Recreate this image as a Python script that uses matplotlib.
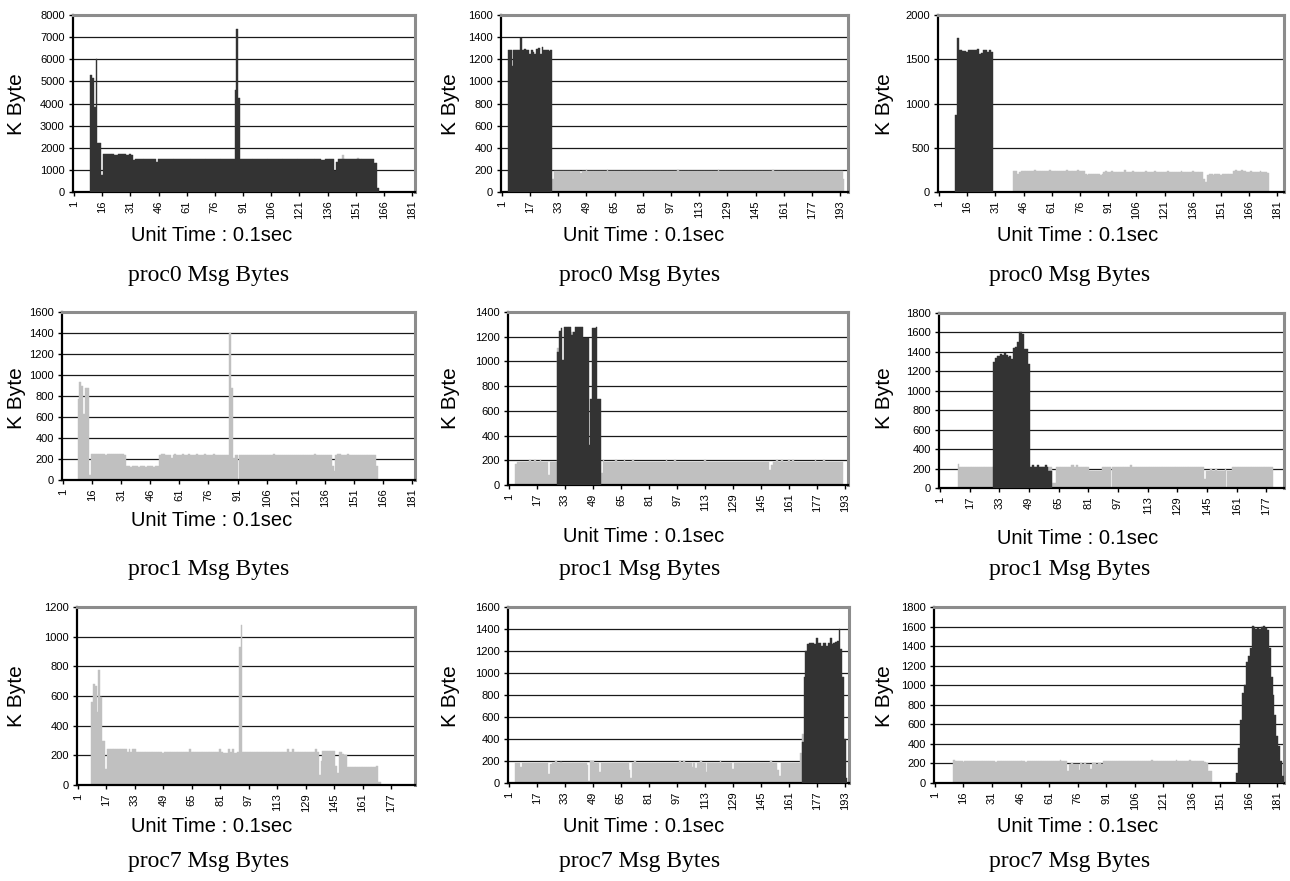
# -*- coding: utf-8 -*-
import matplotlib
matplotlib.use("Agg")
import matplotlib.pyplot as plt
import numpy as np

plt.rcParams['font.family'] = ['Liberation Sans', 'DejaVu Sans']

DARK = '#333333'
LIGHT = '#c0c0c0'

# ---- proc0, run 1 (K Byte per 0.1 sec)
a_n = 182
a_dark_start = 10
a_dark = [5300, 5150, 3850, 6000, 2200, 2200, 750,
          1700, 1700, 1720, 1700, 1700, 1710, 1650, 1650, 1700, 1700, 1710, 1700, 1690, 1680, 1700, 1680,
          1450, 1500, 1500, 1510, 1500, 1490, 1500, 1500, 1510, 1500,
          1480, 1500, 1350, 1500, 1500, 1510, 1500, 1500, 1490, 1500,
          1500, 1510, 1500, 1500, 1500, 1490, 1500, 1510, 1500, 1500,
          1500, 1500, 1490, 1500, 1510, 1500, 1500, 1500, 1490, 1500,
          1500, 1510, 1500, 1500, 1480, 1500, 1500, 1510, 1500, 1500,
          1500, 1490, 1500, 1500,
          4600, 7350, 4250,
          1500, 1490, 1500, 1510, 1500, 1500, 1480, 1500, 1500, 1510,
          1500, 1500, 1490, 1500, 1500, 1510, 1500, 1500, 1500, 1490,
          1500, 1510, 1500, 1500, 1480, 1500, 1500, 1500, 1510, 1500,
          1500, 1490, 1500, 1500, 1510, 1500, 1500, 1480, 1500, 1500,
          1500, 1510, 1500, 1450, 1450, 1500, 1500, 1490, 1500, 1480,
          950, 1350,
          1500, 1500, 1510, 1500, 1490, 1500, 1500, 1510, 1480, 1500,
          1500, 1500, 1490, 1500, 1510, 1500, 1500, 1490, 1500,
          1300, 1300, 200]
a_light_start = 144
a_light = [1650, 0, 0, 0, 0, 0, 0, 0, 1530]

# ---- proc0, run 2
b_n = 197
b_dark_start = 5
b_dark = [1280, 1280, 1140, 1280, 1280, 1280, 1280, 1390, 1280, 1290,
          1280, 1280, 1250, 1280, 1270, 1250, 1290, 1300, 1250, 1310,
          1280, 1280, 1280, 1275, 1280]
b_light_start = 30
b_light = [120,
           190, 190, 190, 190, 190, 190, 190, 190, 190, 190,
           190, 190, 190, 190, 190, 170, 190, 190, 200, 190,
           190, 190, 190, 190, 190, 190, 190, 190, 190, 190,
           200, 190, 190, 190, 190, 190, 190, 190, 190, 190,
           190, 190, 190, 190, 190, 190, 190, 190, 190, 190,
           190, 190, 190, 190, 190, 190, 190, 190, 190, 190,
           190, 190, 190, 190, 190, 190, 190, 190, 190, 190,
           200, 190, 190, 190, 190, 190, 190, 190, 190, 190,
           190, 190, 190, 190, 190, 190, 190, 190, 190, 190,
           190, 190, 190, 200, 190, 190, 190, 190, 190, 190,
           190, 190, 190, 190, 190, 190, 190, 190, 190, 190,
           190, 190, 190, 190, 190, 190, 190, 190, 190, 190,
           190, 190, 190, 190, 200, 190, 190, 190, 190, 190,
           190, 190, 190, 190, 190, 190, 190, 190, 190, 190,
           190, 190, 190, 190, 190, 190, 190, 190, 190, 190,
           190, 190, 190, 190, 190, 190, 190, 190, 190, 190,
           190, 190, 190, 190,
           120]

# ---- proc0, run 3
c_n = 184
c_dark_start = 10
c_dark = [870, 1740, 1600, 1600, 1590, 1590, 1580, 1600, 1600, 1600,
          1600, 1600, 1620, 1560, 1570, 1600, 1600, 1580, 1600, 1580]
c_light_start = 41
c_light = [240, 240,
           200, 230, 235, 240, 235,
           240, 240, 235, 240, 245, 240, 240, 240, 235, 240,
           240, 240, 245, 240, 240, 240, 240, 235, 240, 240,
           240, 245, 240, 240, 240, 240, 240, 245, 240, 240, 240,
           200, 195, 200, 200, 200, 205, 200, 200, 195, 200,
           230, 235, 230, 230, 240, 230, 230, 230, 225, 230,
           230, 245, 230, 230, 230, 235, 230, 230, 230, 230,
           230, 230, 240, 230, 230, 230, 230, 235, 230, 230,
           230, 230, 230, 230, 240, 230, 230, 230, 230, 230,
           230, 235, 230, 230, 230, 230, 230, 240, 230, 230,
           230, 230, 230,
           150, 110,
           190, 200, 200, 195, 200, 200, 200, 195, 200, 200, 200, 200, 200, 205,
           240, 245, 240, 240, 245, 240, 240,
           230, 230, 235, 230, 230, 230, 230, 235, 230, 230, 230, 220]

# ---- proc1, run 1
d_n = 182
d_dark_start = 1
d_dark = []
d_light_start = 9
d_light = [770, 930, 900, 630, 880, 880, 50,
           250, 250, 250, 245, 250, 250, 250, 240, 245, 250,
           250, 245, 250, 250, 250, 250, 245, 240,
           130, 130, 125, 130, 130, 130, 125, 130, 130, 130,
           125, 130, 130, 130, 125, 130, 130,
           240, 245, 250, 240, 240, 240, 210, 240, 245, 240,
           240, 240, 250, 240, 240, 245, 240, 240, 240, 250,
           240, 240, 240, 245, 240, 240, 240, 240, 250, 240,
           240, 240, 240, 240, 240, 240,
           1400, 880, 210,
           240, 240, 240, 240, 240, 240, 240, 240, 240, 240,
           240, 240, 240, 240, 240, 240, 240, 240, 240, 240,
           245, 240, 240, 240, 240, 240, 240, 240, 240, 240,
           240, 240, 240, 240, 240, 240, 240, 240, 240, 240,
           240, 245, 240, 240, 240, 240, 240, 240, 240, 240,
           130, 90,
           240, 245, 250, 240, 240, 240, 245, 240, 240, 240,
           240, 240, 240, 240, 240, 240, 240, 240, 240, 240, 240,
           130]

# ---- proc1, run 2
e_n = 194
e_dark_start = 29
e_dark = [1080, 1250, 1270, 1010, 1280, 1280, 1280, 1280, 1210, 1240,
          1280, 1280, 1280, 1280, 1280, 1190, 1190, 1190, 320, 700,
          1270, 1270, 1280, 700, 700]
e_light_start = 5
e_light = [170, 185, 185, 190, 185, 185, 185, 185, 200, 185,
           185, 200, 185, 185, 200, 185, 185, 185, 185, 80,
           185, 185, 185, 185,
           1110,
           185, 185, 185, 185, 185, 185, 185, 1240, 185, 185,
           185, 185, 185, 185, 185, 185, 185, 185, 185, 185,
           185, 185, 185, 185,
           100,
           200, 185, 185, 185, 185, 185, 185, 200, 185, 185,
           185, 185, 200, 185, 185, 185, 185, 200, 185, 185,
           185, 185, 185, 185, 185, 185, 185, 185, 185, 185,
           185, 185, 185, 185, 185, 185, 200, 185, 185, 185,
           185, 200, 185, 185, 185, 185, 185, 185, 185, 185,
           185, 185, 185, 185, 185, 185, 185, 185, 200, 185,
           185, 185, 185, 185, 185, 185, 185, 185, 185, 185,
           185, 185, 185, 185, 185, 185, 185, 185, 185, 185,
           185, 185, 185, 185, 185, 185, 185, 185, 185, 185,
           185, 185, 185, 185, 185,
           120, 160,
           185, 185, 200, 185, 185, 200, 185, 185, 185, 200,
           185, 200, 185, 185, 185, 185, 185, 185, 185, 185,
           185, 185, 185, 185, 200, 185, 185, 185, 185, 200,
           185, 185, 185, 185, 185, 185, 185, 185, 185, 185]

# ---- proc1, run 3
f_n = 186
f_dark_start = 30
f_dark = [1300, 1340, 1360, 1360, 1380, 1370, 1390, 1370, 1350, 1360,
          1330, 1440, 1450, 1500, 1600, 1600, 1580, 1430, 1430, 1280,
          220, 240, 220, 220, 240, 220, 220, 220, 240, 220, 170, 170]
f_light_start = 11
f_light = [250,
           215, 215, 215, 215, 215, 215, 215, 215, 215, 215,
           215, 215, 215, 215, 215, 215, 215, 215,
           215, 215, 215, 215, 215, 215, 215, 215, 215, 215,
           215, 215, 215, 215, 215, 215, 215, 215, 215, 215,
           215, 215, 215, 215, 215, 215, 215, 215, 215, 215,
           215, 215,
           50, 50,
           215, 215, 215, 215, 215, 215, 215, 215, 240, 240,
           215, 240, 215, 215, 215, 215, 215, 215,
           170, 170, 170, 170, 170, 170, 170,
           215, 215, 215, 215, 215, 215, 215, 215, 215, 215,
           215, 215, 215, 215, 215, 240, 215, 215, 215, 215,
           215, 215, 215, 215, 215, 215, 215, 215, 215, 215,
           215, 215, 215, 215, 215, 215, 215, 215, 215, 215,
           215, 215, 215, 215, 215, 215, 215, 215, 215, 215,
           215, 215, 215, 215, 215,
           90,
           170, 170, 200, 170, 170, 200, 170, 170, 170, 170, 200, 170, 170, 170,
           215, 215, 215, 215, 215, 215, 215, 215, 215, 215,
           215, 215, 215, 215, 215, 215, 215, 215, 215, 215, 215, 215]

# ---- proc7, run 1
g_n = 190
g_dark_start = 1
g_dark = []
g_light_start = 9
g_light = [560, 680, 670, 490, 775, 590, 300, 300, 110,
           240, 240, 240, 240, 240, 240, 240, 240, 240, 240, 240, 225, 240, 225, 240, 240,
           225, 225, 225, 225, 225, 225, 225, 225, 225, 225,
           225, 225, 225, 225, 225, 215, 225, 225, 225, 225,
           225, 225, 225, 225, 225, 225, 225, 225, 225, 225,
           240, 225, 225, 225, 225, 225, 225, 225, 225, 225,
           225, 225, 225, 225, 225, 225, 225, 240, 225, 215,
           215, 215, 240, 225, 240, 215, 215, 225,
           930, 1080,
           225, 225, 225, 225, 225, 225, 225, 225, 225, 225,
           225, 225, 225, 225, 225, 225, 225, 225, 225, 225,
           225, 225, 225, 225, 225, 240, 225, 225, 240, 225,
           225, 225, 225, 225, 225, 225, 225, 225, 225, 225,
           225, 240, 225,
           65, 160,
           230, 230, 230, 230, 230, 230, 230,
           130, 80,
           225, 220, 210, 200, 200,
           120, 120, 120, 120, 120, 120, 120, 120, 120, 120, 120, 120, 120, 120, 120, 120,
           130, 20, 20]

# ---- proc7, run 2
h_n = 195
h_dark_start = 169
h_dark = [370, 960, 1200, 1260, 1270, 1270, 1270, 1260, 1320, 1270,
          1270, 1250, 1270, 1270, 1250, 1270, 1320, 1260, 1270, 1280,
          1290, 1400, 1220, 960, 400, 50]
h_light_start = 5
h_light = [185, 185, 185, 150, 185, 185, 185, 185, 185, 185,
           185, 185, 185, 185, 185, 185, 185, 185, 185, 80,
           170, 185, 185, 200, 185, 185, 195, 185, 185, 185,
           185, 185, 185, 185, 185, 185, 185, 185, 185, 185,
           185, 160, 20, 200, 200, 185, 185, 185, 100, 185,
           185, 185, 185, 185, 185, 185, 185, 185, 185, 185,
           185, 185, 185, 185, 185, 120, 50, 185, 200, 185,
           185, 185, 185, 185, 185, 185, 185, 185, 185, 185,
           185, 185, 185, 185, 185, 185, 185, 185, 185, 185,
           185, 185, 185, 185, 200, 185, 200, 185, 185, 185,
           185, 150, 185, 140, 185, 185, 200, 185, 185, 100,
           185, 185, 185, 185, 185, 185, 185, 200, 185, 185,
           185, 185, 185, 185, 130, 185, 185, 185, 185, 185,
           185, 185, 185, 185, 185, 185, 185, 185, 185, 185,
           185, 185, 185, 185, 185, 185, 200, 185, 185, 185,
           120, 60, 185, 185, 185, 185, 185, 185, 185, 185,
           185, 185, 185, 270, 450]

# ---- proc7, run 3
i_n = 184
i_dark_start = 160
i_dark = [100, 360, 640, 920, 1000, 1240, 1300, 1380,
          1610, 1600, 1580, 1590, 1580, 1600, 1610, 1590, 1560,
          1380, 1080, 900, 700, 480, 380, 220, 70]
i_light_start = 11
i_light = [240,
           220, 220, 220, 220, 215, 220, 220, 220, 220, 220,
           220, 220, 225, 220, 220, 220, 220, 220, 220, 220,
           220, 215, 220, 220, 220, 220, 220, 220, 225, 220,
           220, 220, 220, 220, 220, 220, 220, 215, 220, 220,
           220, 220, 220, 220, 220, 225, 220, 220, 220, 220,
           220, 220, 220, 220, 220,
           240, 220, 220, 220, 120,
           195, 200, 195, 195, 195, 130, 200, 195, 200, 195, 195,
           140,
           200, 200, 195, 200, 200, 195,
           220, 220, 220, 220, 220, 220, 220, 220, 220, 220,
           220, 220, 220, 220, 220, 220, 220, 220, 220, 220,
           220, 220, 220, 220, 220, 240, 220, 220, 220, 220,
           220, 220, 220, 220, 220, 220, 220, 220, 240, 220,
           220, 220, 220, 220, 220, 240, 220, 220, 220, 220,
           220, 220, 220,
           215, 200, 120, 120]

captions = ['proc0 Msg Bytes', 'proc0 Msg Bytes', 'proc0 Msg Bytes',
            'proc1 Msg Bytes', 'proc1 Msg Bytes', 'proc1 Msg Bytes',
            'proc7 Msg Bytes', 'proc7 Msg Bytes', 'proc7 Msg Bytes']
y_max = [8000, 1600, 2000, 1600, 1400, 1800, 1200, 1600, 1800]
y_step = [1000, 200, 500, 200, 200, 200, 200, 200, 200]
x_label_step = [15, 16, 15, 15, 16, 16, 16, 16, 15]

series = [
    (a_n, a_dark_start, a_dark, a_light_start, a_light),
    (b_n, b_dark_start, b_dark, b_light_start, b_light),
    (c_n, c_dark_start, c_dark, c_light_start, c_light),
    (d_n, d_dark_start, d_dark, d_light_start, d_light),
    (e_n, e_dark_start, e_dark, e_light_start, e_light),
    (f_n, f_dark_start, f_dark, f_light_start, f_light),
    (g_n, g_dark_start, g_dark, g_light_start, g_light),
    (h_n, h_dark_start, h_dark, h_light_start, h_light),
    (i_n, i_dark_start, i_dark, i_light_start, i_light),
]

# layout in pixels: left, top, right, bottom of each plot area
W, H = 1290, 881
boxes = [(73, 15, 415, 192), (501, 15, 848, 192), (938, 15, 1284, 192),
         (62, 312, 415, 480), (508, 312, 848, 485), (939, 313, 1284, 488),
         (77, 607, 415, 785), (508, 607, 849, 783), (934, 607, 1284, 783)]
ylab_x = [17, 451, 884]
ylab_y = [104, 398, 696]
xlab_x = [212, 644, 1078]
xlab_y = [[235, 235, 235], [521, 536, 538], [826, 826, 826]]
cap_x = [209, 640, 1070]
cap_y = [275, 570, 862]

fig = plt.figure(figsize=(W / 100, H / 100), dpi=100)
fig.patch.set_facecolor('white')

for k in range(9):
    l, t, r, b = boxes[k]
    ax = fig.add_axes([l / W, 1 - b / H, (r - l) / W, (b - t) / H])
    n, ds, dv, ls, lv = series[k]

    if len(lv):
        xl = np.arange(ls, ls + len(lv))
        ax.bar(xl, lv, width=1.0, color=LIGHT, edgecolor=LIGHT, linewidth=0.3, zorder=2)
    if len(dv):
        xd = np.arange(ds, ds + len(dv))
        ax.bar(xd, dv, width=1.0, color=DARK, edgecolor=DARK, linewidth=0.3, zorder=3)

    ax.set_xlim(0.5, n + 0.5)
    ax.set_ylim(0, y_max[k])
    ax.set_yticks(np.arange(0, y_max[k] + 1, y_step[k]))
    ax.yaxis.grid(True, color='#1a1a1a', linewidth=0.9, zorder=1)
    ax.set_axisbelow(True)

    xt = np.arange(1, n + 1, x_label_step[k])
    ax.set_xticks(xt)
    ax.set_xticklabels([str(v) for v in xt], rotation=90, fontsize=8)
    ax.tick_params(axis='y', labelsize=8, length=3, width=1, pad=3)
    ax.tick_params(axis='x', length=3, width=1, pad=3)

    for s in ['left', 'bottom']:
        ax.spines[s].set_color('black')
        ax.spines[s].set_linewidth(1.6)
    for s in ['top', 'right']:
        ax.spines[s].set_color('#8c8c8c')
        ax.spines[s].set_linewidth(2.2)

    row, col = k // 3, k % 3
    fig.text(ylab_x[col] / W, 1 - ylab_y[row] / H, 'K Byte', rotation=90,
             ha='center', va='center', fontsize=15)
    fig.text(xlab_x[col] / W, 1 - xlab_y[row][col] / H, 'Unit Time : 0.1sec',
             ha='center', va='center', fontsize=14.5)
    fig.text(cap_x[col] / W, 1 - cap_y[row] / H, captions[k],
             ha='center', va='center', fontsize=17, family=['Liberation Serif', 'DejaVu Serif'])

fig.savefig('out.png', dpi=100, facecolor='white')
